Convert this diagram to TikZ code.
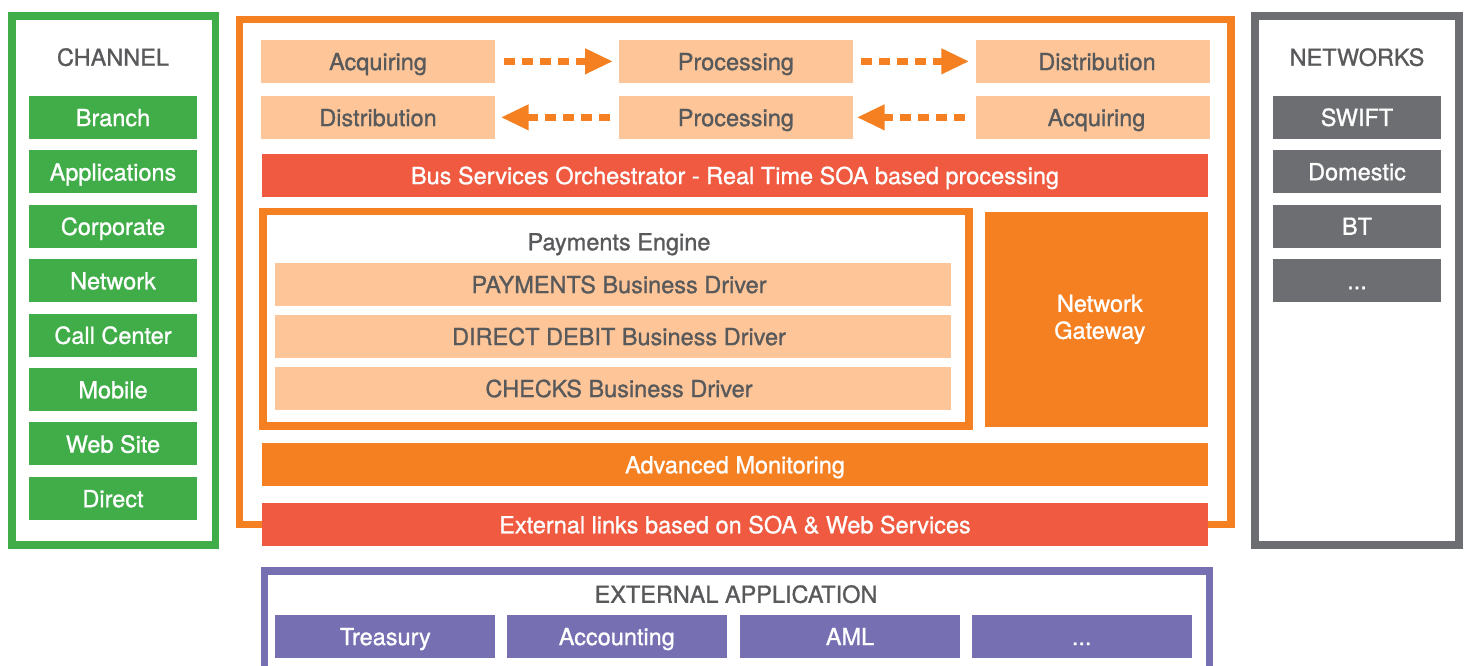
\documentclass[tikz,border=0pt]{standalone}
\usepackage{fontspec}
\setmainfont{TeX Gyre Heros}[FakeBold=1]
\usetikzlibrary{arrows.meta}
\definecolor{cgreen}{HTML}{41AD49}
\definecolor{corange}{HTML}{F58021}
\definecolor{clight}{HTML}{FDC598}
\definecolor{cred}{HTML}{EF5A40}
\definecolor{cgrey}{HTML}{6D6E71}
\definecolor{cpurple}{HTML}{7670B3}
\definecolor{ctext}{HTML}{58595B}
\newcommand{\shiftr}[1]{\hspace*{#1}}
\begin{document}
\begin{tikzpicture}[x=1pt,y=-1pt,
  every node/.style={font=\fontsize{23.5}{27}\selectfont, inner sep=0pt, outer sep=0pt,
    text height=17.5pt, text depth=0pt},
  frame/.style={draw, line width=7.6pt, fill=none},
  sidebox/.style={minimum width=168pt, minimum height=43pt, text=white},
  greenbox/.style={sidebox, fill=cgreen},
  greybox/.style={sidebox, fill=cgrey},
  lightbox/.style={fill=clight, text=ctext, minimum width=234pt, minimum height=42.7pt},
  drvbox/.style={fill=clight, text=ctext, minimum width=676pt, minimum height=43pt},
  bar/.style={text=white, minimum width=946pt, minimum height=42.6pt},
  purplebox/.style={fill=cpurple, text=white, minimum width=220pt, minimum height=42.7pt},
  title/.style={text=ctext},
  flow/.style={draw=corange, line width=7pt, dash pattern=on 11pt off 7pt,
    -{Triangle[length=28pt,width=24pt]}}]
\clip (0,0) rectangle (1467,666);
\fill[white] (0,0) rectangle (1467,666);

% frames
\node[frame, draw=cgreen, minimum width=203.5pt, minimum height=529pt] (chframe) at (113.75,280.5) {};
\node[frame, draw=cgrey, minimum width=204pt, minimum height=529pt] (netframe) at (1357,280.5) {};
\node[frame, draw=corange, line width=7.5pt, minimum width=991.3pt, minimum height=504.9pt] (mainframe) at (735.35,272.15) {};
\node[frame, draw=corange, line width=7.8pt, minimum width=706.2pt, minimum height=214.8pt] (payframe) at (615.9,318.9) {};
\node[frame, draw=cpurple, line width=7.4pt, minimum width=945.3pt, minimum height=258pt] (extframe) at (736.95,700) {};

% channel
\node[title] (chtitle) at (113,57) {CHANNEL};
\node[greenbox] (branch) at (113,117.35) {Branch};
\node[greenbox] (apps) at (113,171.8) {Applications};
\node[greenbox] (corp) at (113,226.2) {Corporate};
\node[greenbox] (netw) at (113,280.6) {Network};
\node[greenbox] (call) at (113,335.1) {Call Center};
\node[greenbox] (mobile) at (113,389.5) {Mobile};
\node[greenbox] (web) at (113,443.9) {Web Site};
\node[greenbox] (direct) at (113,498.4) {Direct};

% networks
\node[title] (nettitle) at (1357,57) {NETWORKS};
\node[greybox] (swift) at (1357,117.15) {SWIFT};
\node[greybox] (domestic) at (1357,171.45) {Domestic};
\node[greybox] (bt) at (1357,226) {BT};
\node[greybox] (netmore) at (1357,280.4) {...};

% flow rows
\node[lightbox] (acq1) at (378,61.35) {Acquiring};
\node[lightbox, minimum width=233.7pt] (proc1) at (735.85,61.35) {Processing};
\node[lightbox] (dist1) at (1093,61.35) {\shiftr{8pt}Distribution};
\node[lightbox] (dist2) at (378,117.35) {Distribution};
\node[lightbox, minimum width=233.7pt] (proc2) at (735.85,117.35) {Processing};
\node[lightbox] (acq2) at (1093,117.35) {\shiftr{7pt}Acquiring};

\draw[flow, shorten <=9pt, shorten >=6pt] (acq1.east) -- (proc1.west);
\draw[flow, shorten <=8.3pt, shorten >=6.7pt] (proc1.east) -- (dist1.west);
\draw[flow, shorten <=11pt, shorten >=4pt] (acq2.west) -- (proc2.east);
\draw[flow, shorten <=9pt, shorten >=5.7pt] (proc2.west) -- (dist2.east);

% bus
\node[bar, fill=cred] (bus) at (735,175.35) {Bus Services Orchestrator - Real Time SOA based processing};

% payments engine
\node[title] (paytitle) at (619,241.5) {Payments Engine};
\node[drvbox] (drvpay) at (613,284.35) {\shiftr{12pt}PAYMENTS Business Driver};
\node[drvbox] (drvdd) at (613,336.35) {\shiftr{12pt}DIRECT DEBIT Business Driver};
\node[drvbox] (drvchk) at (613,388.35) {\shiftr{12pt}CHECKS Business Driver};

% network gateway
\node[fill=corange, text=white, align=center, text height={}, text depth={},
  minimum width=222.7pt, minimum height=214.7pt] (gateway) at (1096.35,319.35)
  {\shiftr{7pt}Network\\\shiftr{7pt}Gateway};

% monitoring & external links
\node[bar, fill=corange] (monitor) at (735,464.5) {Advanced Monitoring};
\node[bar, fill=cred] (extlinks) at (735,524.5) {External links based on SOA \& Web Services};

% external application
\node[title] (exttitle) at (736,594) {EXTERNAL APPLICATION};
\node[purplebox] (treasury) at (385.3,636.35) {Treasury};
\node[purplebox] (accounting) at (616.8,636.35) {Accounting};
\node[purplebox] (aml) at (850,636.35) {AML};
\node[purplebox] (extmore) at (1081.7,636.35) {...};
\end{tikzpicture}
\end{document}
